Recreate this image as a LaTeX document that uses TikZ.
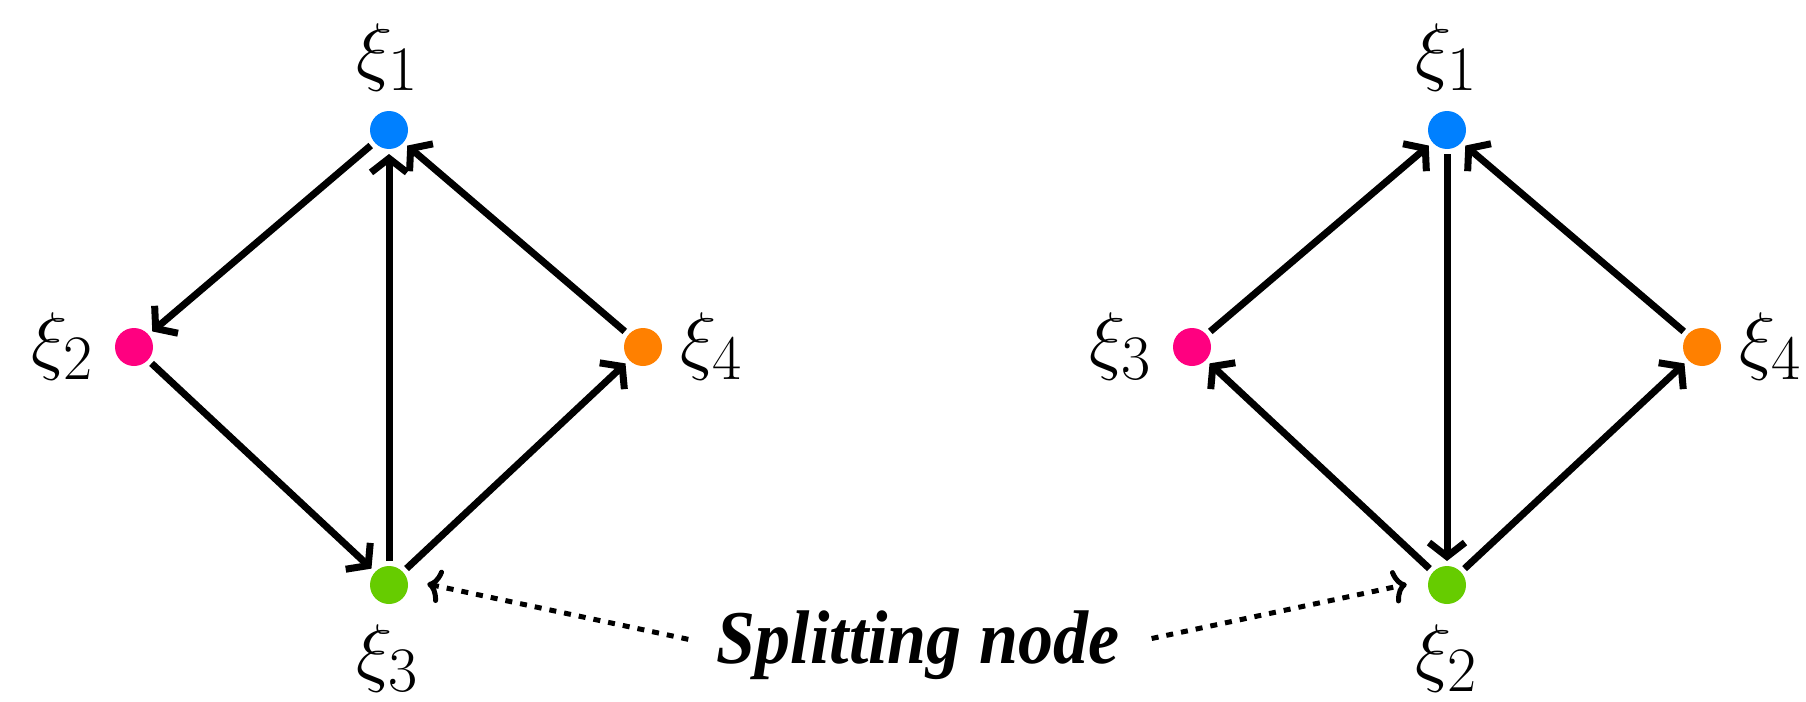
\documentclass[tikz,border=0pt]{standalone}
\usepackage{fontspec}
\newfontfamily\splitfont{Liberation Serif}
\usetikzlibrary{arrows.meta}
\definecolor{cblue}{RGB}{0,128,255}
\definecolor{cpink}{RGB}{255,0,128}
\definecolor{cgreen}{RGB}{102,204,0}
\definecolor{corange}{RGB}{255,128,0}
\newcommand{\biglab}[1]{\scalebox{3.055}{\fontsize{24.88}{30}\selectfont$#1$}}
\begin{document}
\begin{tikzpicture}[x=1pt,y=-1pt,
  dot/.style={circle,minimum size=38pt,inner sep=0pt,outer sep=5pt},
  lab/.style={inner sep=0pt},
  edge/.style={line width=7pt,-{Straight Barb[length=14pt,width=36pt,line width=7pt]}},
  pointer/.style={line width=5pt,dash pattern=on 7pt off 8pt,
    -{Computer Modern Rightarrow[length=14pt,width=34pt,line width=5pt]}}]
\fill[white] (0,0) rectangle (1806,701);
\useasboundingbox (0,0) rectangle (1806,701);
% left graph
\node[dot,fill=cblue]   (a1) at (389,130) {};
\node[dot,fill=cpink]   (a2) at (134,347) {};
\node[dot,fill=cgreen]  (a3) at (389,585) {};
\node[dot,fill=corange] (a4) at (643,347) {};
\node[lab] (la1) at (388,57)  {\biglab{\xi_1}};
\node[lab] (la2) at (63,346)  {\biglab{\xi_2}};
\node[lab] (la3) at (388,658) {\biglab{\xi_3}};
\node[lab] (la4) at (712,346) {\biglab{\xi_4}};
\draw[edge] (a1) -- (a2);
\draw[edge] (a2) -- (a3);
\draw[edge] (a3) -- (a1);
\draw[edge] (a3) -- (a4);
\draw[edge] (a4) -- (a1);
% right graph
\node[dot,fill=cblue]   (b1) at (1447,130) {};
\node[dot,fill=cpink]   (b3) at (1192,347) {};
\node[dot,fill=cgreen]  (b2) at (1447,585) {};
\node[dot,fill=corange] (b4) at (1702,347) {};
\node[lab] (lb1) at (1447,57)  {\biglab{\xi_1}};
\node[lab] (lb3) at (1121,346) {\biglab{\xi_3}};
\node[lab] (lb2) at (1447,658) {\biglab{\xi_2}};
\node[lab] (lb4) at (1771,346) {\biglab{\xi_4}};
\draw[edge] (b3) -- (b1);
\draw[edge] (b1) -- (b2);
\draw[edge] (b2) -- (b3);
\draw[edge] (b2) -- (b4);
\draw[edge] (b4) -- (b1);
% label
\node[anchor=base,inner sep=3pt,font=\splitfont\bfseries\itshape\fontsize{76}{80}\selectfont] (split) at (918,663) {\scalebox{0.92}[1]{Splitting node}};
\draw[pointer,shorten <=26pt,shorten >=15pt] (split.west) -- (a3.10);
\draw[pointer,shorten <=30pt,shorten >=17pt] (split.east) -- (b2.170);
\end{tikzpicture}
\end{document}
